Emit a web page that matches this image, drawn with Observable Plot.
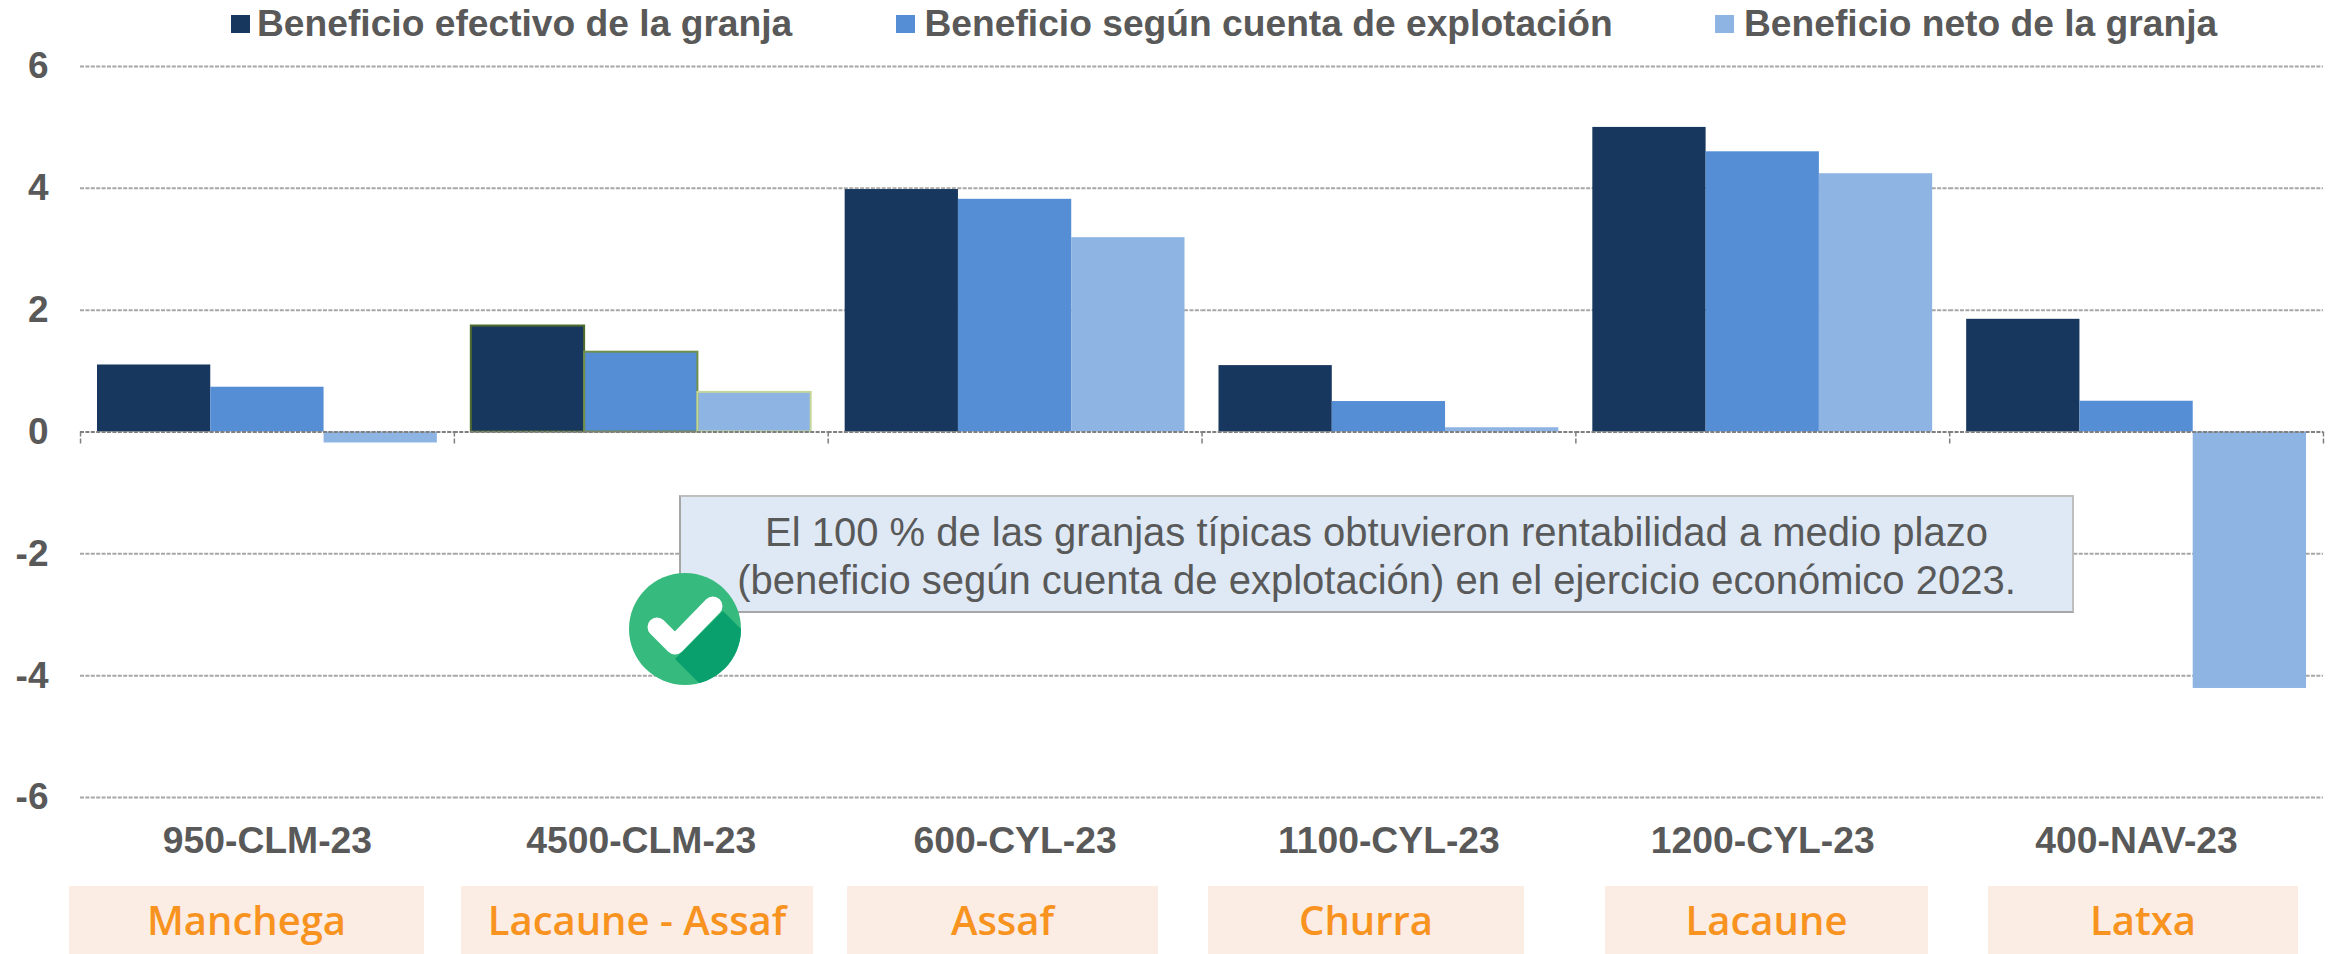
<!DOCTYPE html>
<html lang="es"><head><meta charset="utf-8">
<script src="https://cdn.jsdelivr.net/npm/d3@7"></script>
<script src="https://cdn.jsdelivr.net/npm/@observablehq/plot@0.6"></script>
<style>
html,body{margin:0;background:#fff}
#page{position:relative;width:2339px;height:954px;overflow:hidden;font-family:"Liberation Sans",Arial,sans-serif}
#chart{position:absolute;left:0;top:44px}
.lg{position:absolute;top:-1px;font-weight:700;font-size:37.2px;line-height:48px;color:#595959;white-space:nowrap}
.sw{position:absolute;top:15px;width:19px;height:18px}
#note{position:absolute;left:679px;top:495px;width:1391px;height:114px;background:#DEE9F5;border:2px solid #A6A6A6;border-top-color:#BFBFBF;border-right-color:#BFBFBF;color:#595959;font-size:40px;line-height:48px;text-align:center;box-sizing:content-box}
#note div{padding-top:11px}
.br{position:absolute;background:#FBECE4;bottom:0;top:886px;color:#F7931E;font-family:"Open Sans",sans-serif;font-weight:600;font-size:40px;line-height:68px;text-align:center;white-space:nowrap}
#ok{position:absolute;left:629px;top:573px}
</style></head><body>
<div id="page"><div id="chart"></div></div>
<script>
const categories = ["950-CLM-23","4500-CLM-23","600-CYL-23","1100-CYL-23","1200-CYL-23","400-NAV-23"];
const seriesNames = ["Beneficio efectivo de la granja","Beneficio según cuenta de explotación","Beneficio neto de la granja"];
const efectivo = [1.10,1.74,3.98,1.09,5.00,1.85];
const cuenta   = [0.735,1.31,3.82,0.50,4.60,0.505];
const neto     = [-0.18,0.65,3.19,0.07,4.24,-4.21];
const colors   = ["#17375E","#558ED5","#8EB4E3"];
const outlines = ["#4F6B2E","#6F8F4A","#C3D69B"];
const breeds   = ["Manchega","Lacaune - Assaf","Assaf","Churra","Lacaune","Latxa"];
const yTicks   = [-6,-4,-2,0,2,4,6];
const note = ["El 100 % de las granjas típicas obtuvieron rentabilidad a medio plazo","(beneficio según cuenta de explotación) en el ejercicio económico 2023."];

const rows = categories.flatMap((c,i)=>[efectivo,cuenta,neto].map((v,s)=>({cat:c,series:seriesNames[s],value:v[i]})));
const grid = {stroke:"#A6A6A6",strokeWidth:2,strokeDasharray:"4 1.4"};

const chart = Plot.plot({
  width:2339,height:836,marginLeft:80,marginRight:16,marginTop:22,marginBottom:83,
  style:{background:"transparent",fontFamily:"'Liberation Sans',Arial,sans-serif"},
  fx:{domain:categories,padding:0,round:false,label:null},
  x:{domain:seriesNames,paddingInner:0,paddingOuter:0.15,round:false,axis:null},
  y:{domain:[-6,6],label:null},
  color:{domain:seriesNames,range:colors},
  marks:[
    Plot.axisY({ticks:yTicks,tickSize:0,tickPadding:32,tickFormat:d=>String(d),fontSize:37,fontWeight:700,color:"#595959",label:null}),
    Plot.axisFx({anchor:"bottom",tickSize:0,tickPadding:29,fontSize:37.3,fontWeight:700,color:"#595959",label:null}),
    Plot.ruleY(yTicks.filter(d=>d!==0),grid),
    Plot.barY(rows,{fx:"cat",x:"series",y:"value",fill:"series"}),
    ...seriesNames.map((s,i)=>Plot.barY(rows.filter(d=>d.cat===categories[1]&&d.series===s),{fx:"cat",x:"series",y:"value",stroke:outlines[i],strokeWidth:2,fill:"none"})),
    Plot.ruleY([0],{...grid,stroke:"#7F7F7F"}),
    Plot.ruleX(categories,{fx:d=>d,x:()=>seriesNames[0],y1:0,y2:-0.2,dx:-(56.6+17),stroke:"#7F7F7F",strokeWidth:1.5,strokeDasharray:"5 2"}),
    Plot.ruleX(categories.slice(-1),{fx:d=>d,x:()=>seriesNames[2],y1:0,y2:-0.2,dx:(56.6+17),stroke:"#7F7F7F",strokeWidth:1.5,strokeDasharray:"5 2"})
  ]
});
document.getElementById("chart").append(chart);

const page = document.getElementById("page");
function el(cls,css,text){const d=document.createElement("div");d.className=cls;Object.assign(d.style,css);if(text)d.textContent=text;page.append(d);return d;}
[[231,257],[896,924.5],[1715,1744]].forEach(([sx,tx],i)=>{
  el("sw",{left:sx+"px",background:colors[i]});
  el("lg",{left:tx+"px"},seriesNames[i]);
});
const n = el("",{},null); n.id="note";
const inner=document.createElement("div");inner.innerHTML=note.join("<br>");n.append(inner);
const boxes=[[69,424],[461,813],[847,1158],[1208,1524],[1605,1928],[1988,2298]];
boxes.forEach(([a,b],i)=>el("br",{left:a+"px",width:(b-a)+"px"},breeds[i]));
const ok=document.createElementNS("http://www.w3.org/2000/svg","svg");
ok.id="ok";ok.setAttribute("width",112);ok.setAttribute("height",112);ok.setAttribute("viewBox","0 0 112 112");
ok.innerHTML=`<defs><clipPath id="c"><circle cx="56" cy="56" r="56"/></clipPath></defs>
<circle cx="56" cy="56" r="56" fill="#36BA7D"/>
<path clip-path="url(#c)" d="M46 86 L94 38 L130 74 L96 130 L70 110 Z" fill="#0AA06E"/>
<path d="M28 54 L46 72 L84 33" fill="none" stroke="#fff" stroke-width="19" stroke-linecap="round" stroke-linejoin="round"/>`;
page.append(ok);
</script>
</body></html>
